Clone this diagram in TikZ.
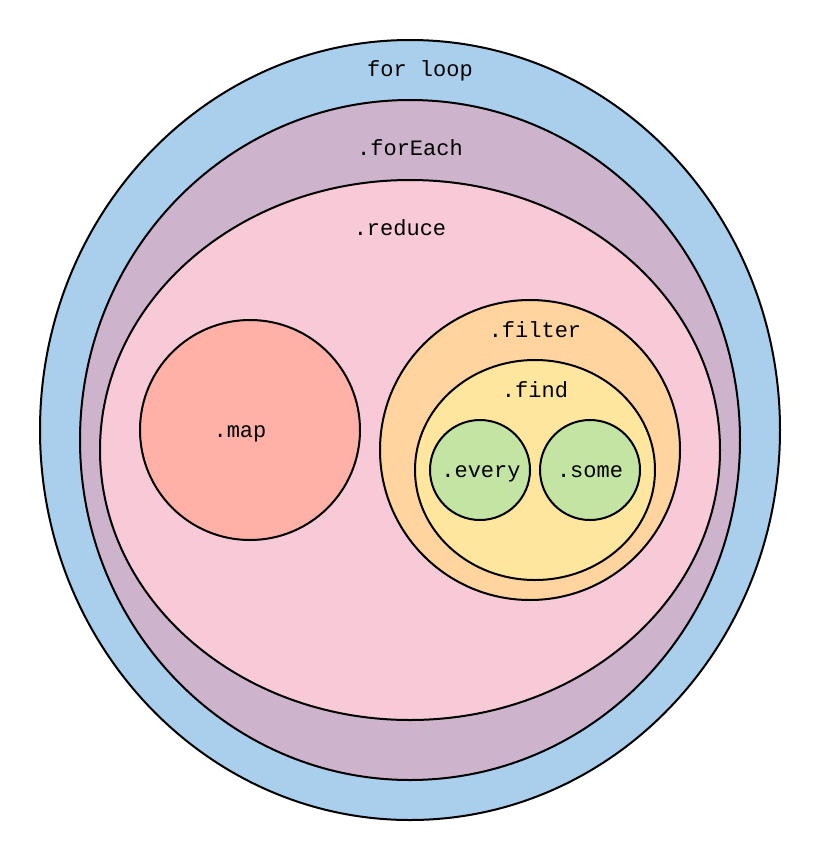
\documentclass[tikz,border=0pt]{standalone}
\usepackage{fontspec}
\setmonofont{Liberation Mono}
\usepackage{tikz}
\usetikzlibrary{shapes.geometric}

\definecolor{loopblue}{HTML}{A9CFEC}
\definecolor{eachpurple}{HTML}{CDB3CC}
\definecolor{reducepink}{HTML}{F8CAD8}
\definecolor{mapsalmon}{HTML}{FFB1A7}
\definecolor{filterorange}{HTML}{FFD49F}
\definecolor{findyellow}{HTML}{FFE69F}
\definecolor{testgreen}{HTML}{C3E4A2}

\tikzset{
  zone/.style={draw=black, line width=2pt, ellipse, inner sep=0pt},
  lbl/.style={draw=none, anchor=base, font=\ttfamily\fontsize{22}{26}\selectfont}
}

\begin{document}
\begin{tikzpicture}[x=1pt, y=-1pt]
\useasboundingbox (0,0) rectangle (820,860);

% nested scopes, outermost first
\node[zone, fill=loopblue, minimum width=740pt, minimum height=780pt] (loop) at (410,430) {};
\node[zone, fill=eachpurple, minimum width=660pt, minimum height=680pt] (foreach) at (410,440) {};
\node[zone, fill=reducepink, minimum width=620pt, minimum height=540pt] (reduce) at (410,450) {};

\node[zone, fill=mapsalmon, minimum width=220pt, minimum height=220pt] (map) at (250,430) {};
\node[zone, fill=filterorange, minimum width=300pt, minimum height=300pt] (filter) at (530,450) {};
\node[zone, fill=findyellow, minimum width=240pt, minimum height=220pt] (find) at (535,470) {};
\node[zone, fill=testgreen, minimum width=100pt, minimum height=100pt] (every) at (480,470) {};
\node[zone, fill=testgreen, minimum width=100pt, minimum height=100pt] (some) at (590,470) {};

% labels
\node[lbl] (looplbl) at (420,76) {for loop};
\node[lbl] (foreachlbl) at (410,155) {.forEach};
\node[lbl] (reducelbl) at (400,235) {.reduce};
\node[lbl] (maplbl) at (240,437) {.map};
\node[lbl] (filterlbl) at (535,337) {.filter};
\node[lbl] (findlbl) at (535,397) {.find};
\node[lbl] (everylbl) at (481,477) {.every};
\node[lbl] (somelbl) at (590,477) {.some};
\end{tikzpicture}
\end{document}
